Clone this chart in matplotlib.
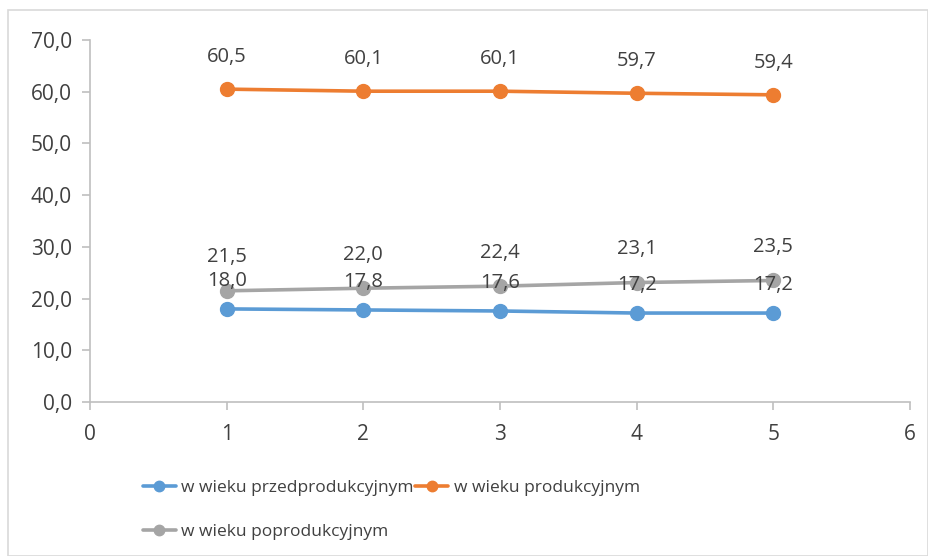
import matplotlib.pyplot as plt
from matplotlib.patches import Rectangle

plt.rcParams['font.family'] = ['Open Sans', 'DejaVu Sans']

x = [1, 2, 3, 4, 5]
przed = [18.0, 17.8, 17.6, 17.2, 17.2]
prod = [60.5, 60.1, 60.1, 59.7, 59.4]
poprod = [21.5, 22.0, 22.4, 23.1, 23.5]
names = ["w wieku przedprodukcyjnym", "w wieku produkcyjnym", "w wieku poprodukcyjnym"]
colors = ["#5B9BD5", "#ED7D31", "#A5A5A5"]
label_offsets = [20, 23, 24]  # points above marker

txt = "#404040"
fig = plt.figure(figsize=(9.29, 5.56), dpi=100)
fig.patches.append(Rectangle((8/929, 0), 1 - 8/929 - 0.5/929, 1 - 10/556, transform=fig.transFigure,
                             fill=False, edgecolor="#d9d9d9", linewidth=1.2))
ax = fig.add_axes([90/929, 1 - 402/556, 820/929, 362/556])

lines = []
for ys, name, c, off in zip([przed, prod, poprod], names, colors, label_offsets):
    ln, = ax.plot(x, ys, color=c, lw=2.6, marker='o', markersize=10, label=name, solid_capstyle='round')
    lines.append(ln)
    for xi, yi in zip(x, ys):
        ax.annotate(f"{yi:.1f}".replace('.', ','), (xi, yi), xytext=(0, off), textcoords='offset points',
                    ha='center', va='center', fontsize=14.5, color=txt)

ax.set_xlim(0, 6)
ax.set_ylim(0, 70)
ax.set_xticks(range(0, 7))
ax.set_yticks(range(0, 71, 10))
ax.set_yticklabels([f"{v},0" for v in range(0, 71, 10)])
for s in ['top', 'right']:
    ax.spines[s].set_visible(False)
for s in ['left', 'bottom']:
    ax.spines[s].set_color("#bfbfbf")
    ax.spines[s].set_linewidth(1.2)
ax.tick_params(colors="#bfbfbf", labelcolor=txt, labelsize=15, length=6, width=1.2)
ax.tick_params(axis='x', pad=10)
ax.tick_params(axis='y', pad=7)

order = [0, 2, 1]
fig.legend([lines[i] for i in order], [names[i] for i in order],
           loc='upper left', bbox_to_anchor=(136/929, 1 - 473/556), ncol=2, frameon=False,
           fontsize=12.5, labelcolor=txt, handlelength=1.9, handletextpad=0.3, columnspacing=0.1,
           labelspacing=1.6, borderaxespad=0, markerscale=0.75)

fig.savefig("out.png", dpi=100)
